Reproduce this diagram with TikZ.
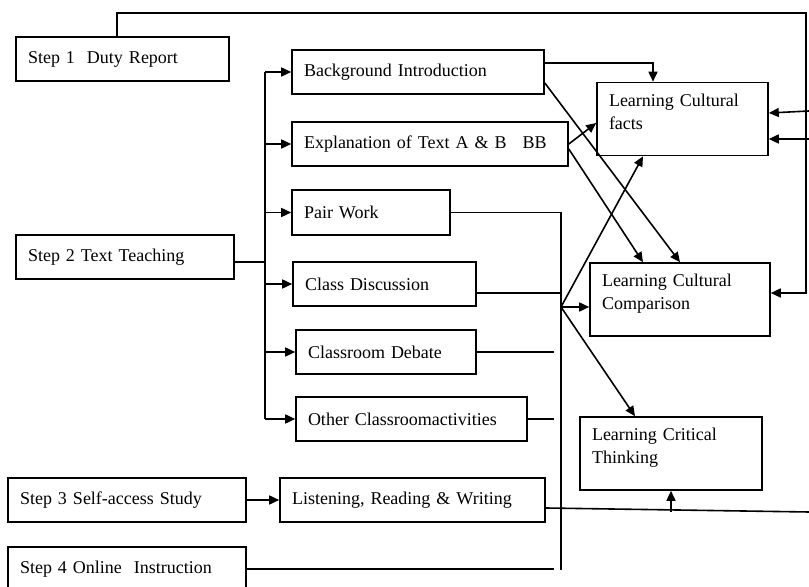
\documentclass[tikz,border=0pt]{standalone}
\usepackage{fontspec}
\setmainfont{Liberation Serif}
\usetikzlibrary{arrows.meta}

\begin{document}
\begin{tikzpicture}[x=0.5pt,y=-0.5pt,line width=0.8pt,
  >={Triangle[length=5pt,width=4.5pt]},
  box/.style={draw,rectangle,align=left,inner xsep=6pt,minimum height=22pt,
    font=\fontsize{9}{11.5}\selectfont},
  lbox/.style={box,minimum height=36.5pt,text depth=18.8pt}]
  \useasboundingbox (0,0) rectangle (809,587);

  % steps
  \node[box,text width=94.5pt] (s1) at (122.5,59) {Step 1~ Duty Report};
  \node[box,text width=97pt] (s2) at (125,257) {Step 2 Text Teaching};
  \node[box,text width=107pt] (s3) at (127,500) {Step 3 Self-access Study};
  \node[box,text width=107pt] (s4) at (127,569) {Step 4 Online~ Instruction};

  % activities
  \node[box,text width=114pt] (bg) at (418,72) {Background Introduction};
  \node[box,text width=126pt] (ex) at (430,144) {Explanation of Text A \& B\hspace{8pt}BB};
  \node[box,text width=67pt,minimum height=22.5pt] (pw) at (371,212.5) {Pair Work};
  \node[box,text width=79.5pt] (cd) at (384.5,284) {Class Discussion};
  \node[box,text width=78pt] (db) at (386,352) {Classroom Debate};
  \node[box,text width=103.5pt] (ot) at (411.5,419) {Other Classroomactivities};
  \node[box,text width=120.5pt] (lr) at (412.5,500) {Listening, Reading \& Writing};

  % aims
  \node[lbox,text width=73.5pt] (facts) at (682.5,119) {Learning Cultural\\facts};
  \node[lbox,text width=78pt] (comp) at (680,299.5) {Learning Cultural\\Comparison};
  \node[lbox,text width=79pt] (crit) at (671,453.5) {Learning Critical\\Thinking};

  \coordinate (bus) at (265,0);
  \coordinate (topR) at (806,13);
  \coordinate (col) at (561,570);
  \coordinate (colG) at (554,0);
  \coordinate (hub) at (561,307);
  \coordinate (rin1) at (809,111);
  \coordinate (rin2) at (809,139);
  \coordinate (rout) at (809,512);

  % step 1 round the top
  \draw[->] ([xshift=-2.75pt]s1.north) |- (topR) |- ([yshift=3.25pt]comp.east);
  \draw[->] (rin1) -- ([yshift=3pt]facts.east);
  \draw[->] (rin2) -- (facts.east |- rin2);

  % step 2 to the activities
  \draw ([yshift=-2.5pt]s2.east) -- ([yshift=-2.5pt]s2.east -| bus);
  \draw (bg.west -| bus) -- (ot.west -| bus);
  \path[->]
    (bg.west -| bus) edge (bg.west)
    (ex.west -| bus) edge (ex.west)
    (pw.west -| bus) edge (pw.west)
    (cd.west -| bus) edge (cd.west)
    (db.west -| bus) edge (db.west)
    (ot.west -| bus) edge (ot.west);

  % activities to aims
  \draw[->] ([yshift=4.5pt]bg.east) -| ([xshift=-14.75pt]facts.north);
  \draw[->] ([yshift=-5.5pt]bg.east) -- (comp.north);
  \draw[->] (ex.east) -- ([yshift=-2pt]facts.west);
  \draw[->] ([yshift=-2.5pt]ex.east) -- ([xshift=-18.5pt]comp.north);

  \draw (pw.east) -| (col);
  \draw ([yshift=-4.5pt]cd.east) -- ([yshift=-4.5pt]cd.east -| col);
  \draw (db.east) -- (db.east -| colG);
  \draw (ot.east) -- (ot.east -| colG);
  \draw (s4.east) -- (s4.east -| colG);
  \draw[->] (hub) -- ([xshift=-19.75pt]facts.south);
  \draw[->] (hub) -- (comp.west |- hub);
  \draw[->] (hub) -- ([xshift=-18pt]crit.north);

  % step 3
  \draw[->] (s3.east) -- (lr.west);
  \draw ([yshift=-4pt]lr.east) -- (rout);
  \draw[->] (crit.south |- rout) -- (crit.south);
\end{tikzpicture}
\end{document}
